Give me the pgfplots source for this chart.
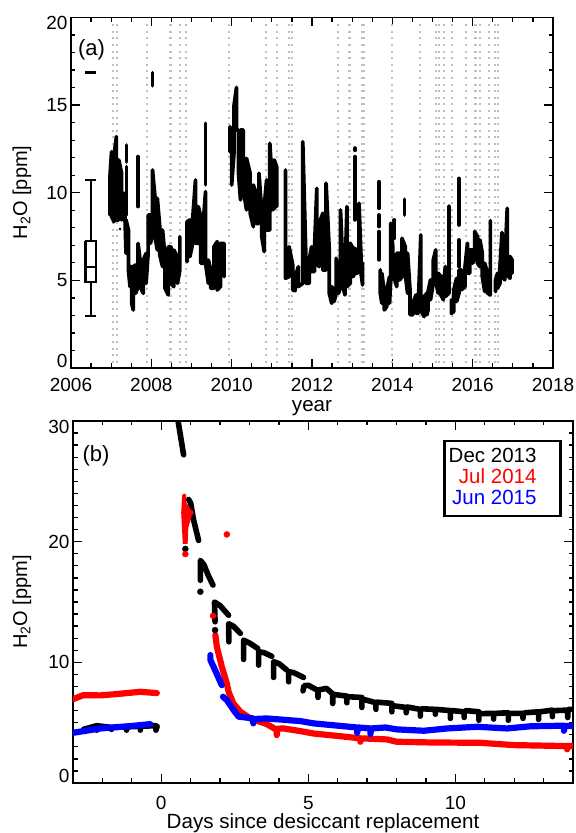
\documentclass[border=0pt]{standalone}
\usepackage{pgfplots}
\pgfplotsset{compat=1.18}
\usepackage{fontspec}
\setmainfont{Liberation Sans}
\newcommand{\fs}[1]{\fontsize{#1bp}{#1bp}\selectfont}
\pgfplotsset{
  panel/.style={
    scale only axis, anchor=south west, clip=true,
    axis line style={line width=1.9bp,black},
    tick align=inside, tick pos=both,
    major tick length=9bp, minor tick length=4.5bp,
    every tick/.style={line width=1.3bp,black},
    minor tick style={line width=1.3bp,black},
    major tick style={line width=1.3bp,black},
    tick label style={font=\fs{19}},
    unbounded coords=jump,
  },
  band/.style={black,line width=3.7bp,line cap=round,line join=round,mark=none},
  tr/.style={line width=6.2bp,line cap=round,line join=round,mark=none},
  gcol/.style={line width=2.3bp,color=black!25,dash pattern=on 2bp off 4.6bp,mark=none},
}
\begin{document}
\begin{tikzpicture}[x=1bp,y=1bp]
\path[use as bounding box] (0,0) rectangle (576,833);
% ---------- panel (a)
\begin{axis}[panel, at={(71bp,465bp)}, width=482bp, height=350.5bp,
  xmin=2006, xmax=2018, ymin=0, ymax=20,
  xtick={2006,2008,2010,2012,2014,2016,2018},
  xticklabels={2006,2008,2010,2012,2014,2016,2018},
  minor xtick={2006.5,2007,2007.5,2008.5,2009,2009.5,2010.5,2011,2011.5,2012.5,2013,2013.5,2014.5,2015,2015.5,2016.5,2017,2017.5},
  ytick={0,5,10,15,20},
  yticklabels={\raisebox{7bp}[13.5bp][0pt]{0},5,10,15,\raisebox{-5.5bp}[13.5bp][0pt]{20}},
  minor ytick={1,2,3,4,6,7,8,9,11,12,13,14,16,17,18,19},
  xticklabel style={yshift=-7bp},
]
\pgfplotsinvokeforeach{2007.04,2007.15,2007.89,2008.48,2008.71,2008.86,2009.93,2010.85,2011.12,2011.42,2011.51,2012.65,2012.93,2013.24,2013.26,2013.28,2014.00,2014.68,2015.09,2015.17,2015.29,2015.49,2015.83,2016.07,2016.18,2016.41,2016.55,2016.63}{
  \addplot[gcol] coordinates {(#1,0.3)(#1,19.8)};
}
% main record
\addplot[band] coordinates {
(2006.97,8.73)(2006.97,10.92)(2007.01,12.34)(2007.01,8.64)(2007.07,8.35)(2007.07,12.06)(2007.13,13.20)(2007.13,8.45)(2007.19,8.45)(2007.19,11.87)(2007.26,11.11)(2007.26,8.45)(2007.32,8.83)(2007.32,9.97)
(2007.34,8.83)(2007.37,6.54)(2007.37,8.45)(2007.43,7.87)(2007.43,5.59)(2007.47,4.64)(2007.47,5.78)(2007.51,5.78)(2007.51,3.69)(2007.55,3.31)(2007.55,5.78)(2007.61,5.88)(2007.61,4.26)(2007.67,4.64)(2007.67,7.11)(2007.72,6.16)(2007.72,4.64)(2007.80,4.26)(2007.80,6.16)(2007.87,6.54)(2007.87,4.83)(2007.92,6.54)(2007.92,8.73)(2007.98,8.73)(2007.98,7.11)(2008.03,7.68)(2008.03,11.30)(2008.09,9.78)(2008.09,7.49)(2008.15,6.73)(2008.15,9.68)(2008.21,8.06)(2008.21,6.45)(2008.28,5.78)(2008.28,7.87)(2008.34,6.35)(2008.34,4.55)(2008.42,4.17)(2008.42,6.92)(2008.49,6.92)(2008.49,4.83)(2008.56,4.64)(2008.56,6.73)(2008.65,6.35)(2008.65,4.83)(2008.71,5.59)(2008.71,7.49)
(2008.80,nan)
(2008.89,6.07)(2008.89,8.35)(2008.96,8.45)(2008.96,6.35)(2009.03,7.11)(2009.03,8.54)(2009.10,10.73)(2009.10,7.11)(2009.17,7.11)(2009.17,9.21)(2009.23,8.64)(2009.23,5.97)(2009.29,5.97)(2009.29,8.25)(2009.35,10.06)(2009.35,5.97)(2009.42,4.83)(2009.42,6.16)(2009.48,5.59)(2009.48,4.55)(2009.56,4.55)(2009.56,6.92)(2009.64,7.21)(2009.64,4.45)(2009.72,4.64)(2009.72,7.11)(2009.81,7.11)(2009.81,5.21)
(2009.90,nan)
(2009.96,12.34)(2009.96,13.77)(2010.00,12.25)(2010.00,10.44)(2010.06,12.34)(2010.06,15.00)(2010.12,16.01)(2010.12,13.58)(2010.17,13.58)(2010.17,11.11)(2010.22,9.59)(2010.22,13.58)(2010.29,13.58)(2010.29,10.16)(2010.37,9.02)(2010.37,11.96)(2010.46,11.11)(2010.46,8.83)(2010.54,8.06)(2010.54,10.44)(2010.61,9.97)(2010.61,8.25)(2010.68,8.25)(2010.68,11.11)(2010.75,8.83)(2010.75,7.49)(2010.81,6.64)(2010.81,9.21)(2010.87,10.73)(2010.87,7.87)(2010.95,7.87)(2010.95,12.82)(2011.01,10.54)(2011.01,9.02)(2011.06,9.11)(2011.06,11.87)(2011.12,11.49)(2011.12,9.21)
(2011.20,nan)
(2011.34,11.30)(2011.34,5.12)(2011.43,5.21)(2011.43,6.92)(2011.52,5.88)(2011.52,4.45)(2011.58,4.41)(2011.58,5.21)(2011.66,5.78)(2011.66,4.64)(2011.77,4.83)(2011.77,12.91)(2011.85,6.16)(2011.85,4.83)(2011.93,4.83)(2011.93,6.16)(2011.99,6.92)(2011.99,5.50)(2012.06,5.50)(2012.06,6.73)(2012.12,10.25)(2012.12,5.97)(2012.18,5.78)(2012.18,8.25)(2012.27,8.83)(2012.27,5.59)(2012.35,5.59)(2012.35,10.54)(2012.43,6.73)(2012.43,4.26)(2012.49,3.69)(2012.49,4.64)(2012.55,4.45)(2012.55,3.79)(2012.60,4.26)(2012.60,6.26)(2012.66,5.21)(2012.66,4.26)(2012.71,4.64)(2012.71,9.02)(2012.77,5.69)(2012.77,4.64)(2012.82,4.17)(2012.82,5.21)(2012.87,9.21)(2012.87,4.64)(2012.95,4.83)(2012.95,7.12)(2013.02,6.83)(2013.02,5.21)(2013.07,5.40)(2013.07,6.83)(2013.11,6.55)(2013.11,5.40)(2013.17,5.50)(2013.17,9.40)(2013.22,6.36)(2013.22,5.40)(2013.26,4.74)(2013.26,5.98)
(2013.50,nan)
(2013.70,5.60)(2013.70,4.26)(2013.74,3.69)(2013.74,5.40)(2013.80,4.26)(2013.80,3.31)(2013.86,3.50)(2013.86,4.45)(2013.93,5.21)(2013.93,3.69)(2013.96,5.02)(2013.96,8.26)(2014.01,6.93)(2014.01,5.40)(2014.11,4.64)(2014.11,6.55)(2014.18,6.55)(2014.18,5.02)(2014.24,5.21)(2014.24,7.40)(2014.32,6.93)(2014.32,5.40)(2014.38,4.26)(2014.38,6.55)(2014.44,4.45)(2014.44,3.03)(2014.51,3.03)(2014.51,3.69)(2014.59,4.17)(2014.59,3.12)(2014.65,3.12)(2014.65,3.88)(2014.71,7.59)(2014.71,3.31)(2014.79,2.93)(2014.79,4.07)(2014.86,4.26)(2014.86,3.03)(2014.89,3.31)(2014.89,4.36)(2014.95,5.03)(2014.95,3.89)(2015.02,4.84)(2015.02,6.17)(2015.08,6.74)(2015.08,5.03)(2015.14,4.27)(2015.14,5.41)(2015.21,5.22)(2015.21,4.17)(2015.27,3.89)(2015.27,4.65)(2015.32,5.79)(2015.32,4.08)(2015.41,4.27)(2015.41,9.25)
(2015.44,nan)
(2015.47,3.89)(2015.47,3.12)(2015.53,3.22)(2015.53,4.46)(2015.60,5.12)(2015.60,3.79)(2015.66,4.27)(2015.66,5.60)(2015.72,5.60)(2015.72,4.46)(2015.81,4.65)(2015.81,5.79)(2015.87,7.12)(2015.87,5.41)(2015.93,5.41)(2015.93,6.74)(2016.00,6.74)(2016.00,5.98)(2016.05,6.36)(2016.05,7.78)(2016.12,7.50)(2016.12,5.98)(2016.18,5.79)(2016.18,7.31)(2016.24,6.55)(2016.24,5.22)(2016.30,4.36)(2016.30,5.98)(2016.37,5.41)(2016.37,4.27)(2016.44,4.17)(2016.44,8.41)
(2016.50,nan)
(2016.57,4.36)(2016.57,5.03)(2016.62,5.41)(2016.62,4.55)(2016.68,4.84)(2016.68,5.79)(2016.73,7.73)(2016.73,5.22)(2016.80,5.03)(2016.80,5.98)(2016.86,9.11)(2016.86,5.31)(2016.93,5.12)(2016.93,6.36)(2016.98,6.17)(2016.98,5.41)
};
% separate spikes
\addplot[band] coordinates {
(2007.38,8.73)(2007.38,11.49)(2007.38,nan)(2007.38,11.75)(2007.38,12.72)(2007.38,nan)
(2007.67,9.21)(2007.67,12.06)(2007.67,nan)
(2008.03,16.1)(2008.03,16.85)(2008.03,nan)
(2009.35,10.45)(2009.35,13.96)(2009.35,nan)
(2013.07,8.45)(2013.07,12.06)(2013.07,nan)
(2013.07,12.42)(2013.07,12.55)(2013.07,nan)
(2013.67,6.17)(2013.67,7.78)(2013.67,nan)(2013.67,8.07)(2013.67,8.73)(2013.67,nan)(2013.67,9.11)(2013.67,10.63)(2013.67,nan)
(2014.05,7.40)(2014.05,8.45)(2014.05,nan)
(2014.30,8.73)(2014.30,9.63)(2014.30,nan)
(2015.66,5.79)(2015.66,7.31)(2015.66,nan)(2015.66,8.16)(2015.66,10.82)
};
\addplot[only marks,mark=*,mark size=1.2bp,black] coordinates {(2007.22,7.93)(2011.52,6.10)};
% box and whisker summary
\addplot[black,line width=2.2bp,mark=none] coordinates {
(2006.36,16.86)(2006.62,16.86)(2006.49,nan)
(2006.36,10.72)(2006.62,10.72)(2006.62,nan)
(2006.49,10.72)(2006.49,7.26)(2006.49,nan)
(2006.36,7.26)(2006.62,7.26)(2006.62,4.92)(2006.36,4.92)(2006.36,7.26)(2006.36,nan)
(2006.36,5.74)(2006.62,5.74)(2006.62,nan)
(2006.49,4.92)(2006.49,2.97)(2006.49,nan)
(2006.36,2.97)(2006.62,2.97)
};
\end{axis}
\node[anchor=center,font=\fs{22}] at (91.5,783) {(a)};
\node[anchor=center,font=\fs{20.6}] at (312,425) {year};
\node[anchor=center,rotate=90,font=\fs{20}] at (22,640.5) {H$_{\mbox{\fs{14}2}}$O [ppm]};
% ---------- panel (b)
\begin{axis}[panel, at={(73bp,50bp)}, width=500bp, height=362bp,
  xmin=-3, xmax=14, ymin=0, ymax=30,
  xtick={0,5,10}, xticklabels={0,5,10},
  minor xtick={-2,-1,1,2,3,4,6,7,8,9,11,12,13},
  ytick={0,10,20,30},
  yticklabels={\raisebox{7bp}[13.5bp][0pt]{0},10,20,\raisebox{-6bp}[13.5bp][0pt]{30}},
  minor ytick={1,2,3,4,5,6,7,8,9,11,12,13,14,15,16,17,18,19,21,22,23,24,25,26,27,28,29},
  xticklabel style={yshift=-10bp},
]
% Dec 2013
\addplot[tr,black,line width=5.6bp] coordinates {
(-2.64,4.45)(-2.19,4.75)(-2.19,4.38)(-2.19,4.75)(-1.69,4.6)(-1.69,4.44)(-1.69,4.6)(-1.18,4.65)(-1.18,4.38)(-1.18,4.65)(-0.71,4.7)(-0.71,4.38)(-0.71,4.7)(-0.18,4.75)(-0.18,4.38)(-0.14,4.7)(-0.14,nan)
(0.50,31)(0.60,29.6)(0.68,28.4)(0.76,27.2)(0.76,nan)
(0.93,23.5)(1.0,23.2)(1.1,21.8)(1.27,20.1)(1.27,nan)
(1.33,16.8)(1.33,18.45)(1.45,18.1)(1.6,17.2)(1.76,16.4)(1.76,nan)
(1.83,13.36)(1.81,15.0)(2.0,14.7)(2.29,13.9)(2.29,nan)
(2.30,11.7)(2.29,13.2)(2.45,13.0)(2.69,12.4)(2.69,nan)
(2.80,10.24)(2.80,11.84)(3.0,11.6)(3.28,11.15)(3.28,nan)
(3.31,9.77)(3.31,10.88)(3.5,10.8)(3.76,10.5)(3.76,nan)
(3.82,8.75)(3.82,10.05)(4.0,9.9)(4.27,9.36)(4.27,nan)
(4.33,8.39)(4.33,9.22)(4.5,9.15)(4.84,8.75)(4.84,nan)
(4.82,7.64)(4.85,8.05)(5.0,8.1)(5.30,7.7)(5.30,nan)
(5.33,7.09)(5.33,7.7)(5.62,7.84)(5.81,7.42)(5.81,nan)
(5.83,6.59)(5.83,7.35)(6.31,7.2)(6.31,6.65)(6.31,nan)
(6.34,7.15)(6.82,7.09)(6.82,6.26)(6.82,nan)
(6.85,6.95)(7.30,6.65)(7.30,6.1)(7.30,nan)
(7.33,6.7)(7.84,6.6)(7.84,5.9)(7.84,nan)
(7.88,6.4)(8.33,6.26)(8.33,5.82)(8.33,nan)
(8.36,6.3)(8.81,6.1)(8.81,5.54)(8.81,nan)
(8.86,6.15)(9.32,6.1)(9.32,5.7)(9.32,nan)
(9.36,6.1)(9.83,6.0)(9.83,5.35)(9.83,nan)
(9.88,6.0)(10.3,5.9)(10.3,5.43)(10.3,nan)
(10.36,6.0)(10.8,5.9)(10.8,5.2)(10.8,nan)
(10.9,5.75)(11.3,5.77)(11.3,5.3)(11.3,nan)
(11.36,5.77)(11.8,5.82)(11.8,5.2)(11.8,nan)
(11.86,5.77)(12.3,5.77)(12.3,5.35)(12.3,nan)
(12.36,5.82)(12.83,5.9)(12.83,5.27)(12.83,nan)
(12.88,5.9)(13.3,6.04)(13.3,5.5)(13.3,nan)
(13.38,6.0)(13.82,6.04)(13.82,5.43)(13.82,nan)
(13.85,6.1)(14,6.1)
};
\addplot[only marks,mark=*,mark size=3bp,black] coordinates {(0.82,19.4)(1.33,15.85)(1.83,12.67)};
% Jul 2014
\addplot[tr,red] coordinates {
(-3,6.95)(-2.65,7.28)(-2.07,7.26)(-1.51,7.37)(-0.71,7.56)(-0.15,7.45)(-0.15,nan)
(1.84,12.26)(1.89,11.3)(2.06,9.63)(2.23,8.25)(2.29,7.56)(2.45,6.6)(2.69,5.9)(3.03,5.35)(3.59,4.88)(3.93,4.4)(3.93,3.97)(3.95,4.5)(4.16,4.52)(4.73,4.3)(5.18,4.1)(6.0,3.9)(6.77,3.7)(6.77,3.42)(6.80,3.7)(7.68,3.61)(8.0,3.42)(9.15,3.36)(10.85,3.33)(11.99,3.14)(13.8,3.06)(13.8,2.8)(13.82,3.06)(14,3.06)
};
\addplot[red,line width=4.2bp,line cap=round,mark=none] coordinates {
(0.78,23.8)(0.75,22.4)(0.80,20.0)(0.83,20.0)(0.88,22.8)(0.99,22.35)(0.85,21.2)
};
\addplot[only marks,mark=*,mark size=3bp,red] coordinates {(0.82,18.97)(2.23,20.6)(1.76,13.86)(0.99,22.4)(0.92,22.5)};
% Jun 2015
\addplot[tr,blue] coordinates {
(-3,4.16)(-2.07,4.52)(-0.94,4.74)(-0.37,4.88)(-0.37,nan)
(1.67,10.6)(1.67,10.2)(1.78,9.63)(2.06,8.1)(2.06,nan)
(2.10,7.15)(2.23,6.87)(2.46,6.04)(2.63,5.5)(3.13,5.35)(3.13,4.94)(3.13,5.3)(3.59,5.35)(4.73,5.13)(5.18,4.94)(6.66,4.6)(6.66,4.16)(6.70,4.6)(7.11,4.52)(7.11,4.05)(7.14,4.52)(7.62,4.6)(8.02,4.44)(8.93,4.33)(9.72,4.52)(10.74,4.66)(11.76,4.52)(12.55,4.7)(13.69,4.75)(13.69,4.33)(13.72,4.72)(14,4.72)
};
\end{axis}
\node[anchor=center,font=\fs{22}] at (96,377) {(b)};
\node[anchor=center,font=\fs{20.6}] at (323,10) {Days since desiccant replacement};
\node[anchor=center,rotate=90,font=\fs{20}] at (22,231) {H$_{\mbox{\fs{14}2}}$O [ppm]};
% legend
\draw[line width=2.8bp,fill=white] (444.5,317) rectangle (560.5,392);
\node[anchor=east,font=\fs{20.5}] at (540,378) {Dec 2013};
\node[anchor=east,font=\fs{20.5},text=red] at (540,357) {Jul 2014};
\node[anchor=east,font=\fs{20.5},text=blue] at (540,336) {Jun 2015};
\end{tikzpicture}
\end{document}
